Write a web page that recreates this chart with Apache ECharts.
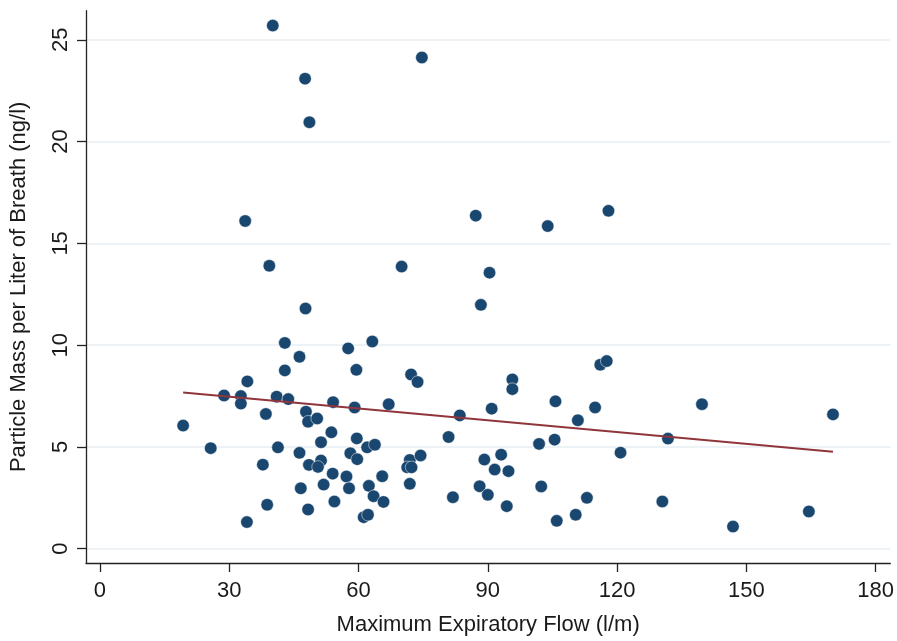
<!DOCTYPE html>
<html>
<head>
<meta charset="utf-8">
<script src="https://cdn.jsdelivr.net/npm/echarts@6/dist/echarts.min.js"></script>
<style>
html,body{margin:0;padding:0;background:#fff;}
#chart{width:897px;height:641px;}
</style>
</head>
<body>
<div id="chart"></div>
<script>
// Maximum expiratory flow (l/m) and particle mass per liter of breath (ng/l)
var flow = [40.1,74.7,47.6,48.6,33.7,87.2,103.9,118.0,39.3,70.0,90.4,
  47.7,42.9,57.6,63.2,46.3,42.9,59.5,34.2,28.8,32.7,32.7,41.0,43.7,54.1,59.1,67.0,38.5,19.3,47.8,48.3,50.4,53.7,
  25.7,41.3,51.3,59.6,62.0,63.8,46.3,58.1,59.7,37.8,48.5,51.3,50.6,54.0,57.2,65.5,51.9,46.6,57.8,62.4,63.5,65.8,
  54.4,38.8,48.3,61.2,62.2,34.1,
  88.4,116.1,117.6,72.2,73.7,95.7,95.7,83.5,90.9,105.7,114.9,110.9,131.8,80.9,101.9,105.5,120.8,71.9,71.3,72.3,
  74.4,71.9,81.9,89.2,93.1,91.6,94.8,88.1,90.0,94.4,102.4,113.0,110.4,106.0,130.5,
  139.7,170.1,146.9,164.5];
var mass = [25.7,24.13,23.09,20.95,16.1,16.36,15.85,16.6,13.9,13.86,13.56,
  11.8,10.11,9.84,10.18,9.43,8.76,8.79,8.22,7.53,7.5,7.13,7.47,7.35,7.2,6.94,7.1,6.62,6.05,6.73,6.24,6.4,5.72,
  4.94,4.98,5.23,5.42,4.98,5.11,4.71,4.69,4.4,4.13,4.12,4.33,4.02,3.69,3.55,3.56,3.15,2.97,2.97,3.09,2.58,2.30,
  2.32,2.16,1.93,1.55,1.67,1.31,
  11.98,9.04,9.22,8.56,8.19,8.32,7.84,6.55,6.88,7.24,6.94,6.31,5.41,5.49,5.15,5.36,4.72,4.36,4.0,4.0,
  4.58,3.19,2.53,4.38,4.62,3.89,3.81,3.07,2.65,2.09,3.06,2.5,1.67,1.37,2.32,
  7.1,6.6,1.09,1.83];
// Linear fit endpoints
var fitX = [19.3, 170.1];
var fitY = [7.68, 4.77];
var xTicks = [0,30,60,90,120,150,180];
var yTicks = [0,5,10,15,20,25];

var points = flow.map(function(v,i){return [v, mass[i]];});
var fitLine = fitX.map(function(v,i){return [v, fitY[i]];});

var FONT = 'Liberation Sans, Arial, sans-serif';
var TXT = '#1a1a1a';
var chart = echarts.init(document.getElementById('chart'), null, {renderer:'canvas'});
chart.setOption({
  animation:false,
  backgroundColor:'#ffffff',
  grid:{left:86, right:5.5, top:10.7, bottom:75.7, containLabel:false},
  xAxis:{
    type:'value', min:-3.24, max:183.4,
    name:'Maximum Expiratory Flow (l/m)', nameLocation:'middle', nameGap:51,
    nameTextStyle:{fontFamily:FONT, fontSize:22, color:TXT},
    axisLine:{show:true, onZero:false, lineStyle:{color:'#222', width:1.3}},
    axisTick:{show:true, length:9, customValues:xTicks, lineStyle:{color:'#222', width:1.3}},
    axisLabel:{customValues:xTicks, fontFamily:FONT, fontSize:22, color:TXT, margin:17},
    splitLine:{show:false}
  },
  yAxis:{
    type:'value', min:-0.70, max:26.43,
    name:'Particle Mass per Liter of Breath (ng/l)', nameLocation:'middle', nameGap:56,
    nameTextStyle:{fontFamily:FONT, fontSize:22, color:TXT},
    axisLine:{show:true, onZero:false, lineStyle:{color:'#222', width:1.3}},
    axisTick:{show:true, length:9, customValues:yTicks, lineStyle:{color:'#222', width:1.3}},
    axisLabel:{customValues:yTicks, rotate:90, fontFamily:FONT, fontSize:22, color:TXT, margin:14},
    splitLine:{show:true, lineStyle:{color:'#e6eef2', width:1.5}}
  },
  series:[
    {type:'scatter', data:points, symbol:'circle', symbolSize:12.5,
     itemStyle:{color:'#1a476f', borderColor:'#ffffff', borderWidth:0.5, opacity:1}, z:3},
    {type:'line', data:fitLine, showSymbol:false, symbol:'none',
     lineStyle:{color:'#90353b', width:2}, z:4}
  ]
});
</script>
</body>
</html>
